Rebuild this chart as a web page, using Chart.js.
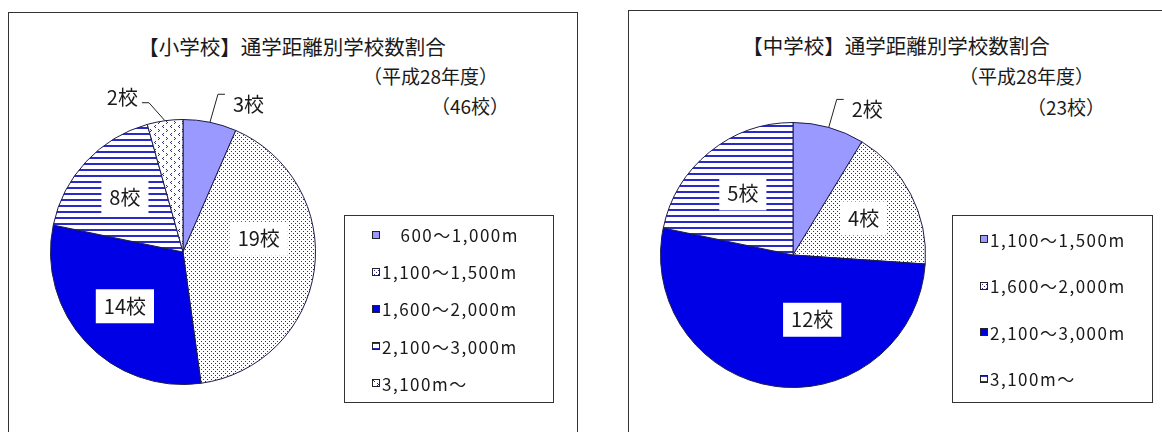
<!DOCTYPE html>
<html lang="ja">
<head>
<meta charset="utf-8">
<script src="https://cdn.jsdelivr.net/npm/chart.js@4.4.1/dist/chart.umd.min.js"></script>
<style>
  body { margin:0; width:1162px; height:432px; overflow:hidden; background:#fff;
         font-family:"Noto Sans CJK JP", sans-serif; color:#1a1a1a; position:relative; }
  .frame { position:absolute; border:1px solid #333; }
  .txt { position:absolute; white-space:pre; line-height:1; }
  .title { font-size:20.5px; transform:translate(-50%, -50%); }
  .sub { font-size:19px; transform:translate(-100%, -50%); }
  .legend { position:absolute; border:1px solid #333; box-sizing:border-box; padding-left:27px;
            display:flex; flex-direction:column; justify-content:space-around; background:#fff; }
  .legend div { display:flex; align-items:center; height:17px; font-size:17px; letter-spacing:1.5px; white-space:pre; }
  .legend canvas { margin-right:2px; }
  canvas.pie { position:absolute; }
</style>
</head>
<body>
<div class="frame" style="left:8px;top:12px;width:568px;height:440px"></div>
<div class="frame" style="left:628px;top:10px;width:560px;height:440px"></div>

<div class="txt title" id="title1" style="left:292px;top:46px"></div>
<div class="txt sub" id="year1" style="left:498px;top:75px"></div>
<div class="txt sub" id="count1" style="left:509px;top:105px"></div>

<div class="txt title" id="title2" style="left:896px;top:45px"></div>
<div class="txt sub" id="year2" style="left:1094px;top:75px"></div>
<div class="txt sub" id="count2" style="left:1105px;top:106px"></div>

<canvas class="pie" id="pie1" width="566" height="419" style="left:9px;top:13px"></canvas>
<canvas class="pie" id="pie2" width="533" height="421" style="left:629px;top:11px"></canvas>

<div class="legend" id="legend1" style="left:344px;top:215px;width:210px;height:188px"></div>
<div class="legend" id="legend2" style="left:952px;top:215px;width:201px;height:188px"></div>

<script>
// 小学校
const elemTitle = '【小学校】通学距離別学校数割合';
const elemLabels = ['　600～1,000m', '1,100～1,500m', '1,600～2,000m', '2,100～3,000m', '3,100m～'];
const elemSchools = [3, 19, 14, 8, 2];

// 中学校
const juniorTitle = '【中学校】通学距離別学校数割合';
const juniorLabels = ['1,100～1,500m', '1,600～2,000m', '2,100～3,000m', '3,100m～'];
const juniorSchools = [2, 4, 12, 5];

const yearText = '（平成28年度）';

function sum(arr) {
    return arr.reduce((s, v) => s + v, 0);
}

document.getElementById('title1').textContent = elemTitle;
document.getElementById('year1').textContent = yearText;
document.getElementById('count1').textContent = '（' + sum(elemSchools) + '校）';
document.getElementById('title2').textContent = juniorTitle;
document.getElementById('year2').textContent = yearText;
document.getElementById('count2').textContent = '（' + sum(juniorSchools) + '校）';

// fill patterns like the old Excel ones
function makePattern(w, h, draw) {
    const c = document.createElement('canvas');
    c.width = w;
    c.height = h;
    const g = c.getContext('2d');
    g.fillStyle = '#fff';
    g.fillRect(0, 0, w, h);
    draw(g);
    return g.createPattern(c, 'repeat');
}

const purple = '#9999ff';
const blue = '#0000e6';
const dots = makePattern(4, 4, g => {
    g.fillStyle = '#2c2c80';
    g.fillRect(0, 0, 1, 1);
    g.fillRect(2, 2, 1, 1);
});
const stripes = makePattern(6, 6, g => {
    g.fillStyle = '#2a2ac8';
    g.fillRect(0, 0, 6, 2);
});
const chevrons = makePattern(8, 8, g => {
    g.fillStyle = '#30307a';
    g.fillRect(2, 0, 1, 1);
    g.fillRect(1, 1, 1, 1);
    g.fillRect(2, 2, 1, 1);
    g.fillRect(5, 4, 1, 1);
    g.fillRect(6, 5, 1, 1);
    g.fillRect(5, 6, 1, 1);
});

const elemFills = [purple, dots, blue, stripes, chevrons];
const juniorFills = [purple, dots, blue, stripes];

// labels "N校": inside with white box, small slices outside with a leader line
const sliceLabels = {
    id: 'sliceLabels',
    afterDatasetsDraw(chart, args, opts) {
        const ctx = chart.ctx;
        const values = chart.data.datasets[0].data;
        const total = sum(values);
        const nudge = opts.nudge || {};
        ctx.save();
        ctx.font = '20px "Noto Sans CJK JP"';
        ctx.textBaseline = 'middle';
        chart.getDatasetMeta(0).data.forEach((arc, i) => {
            const p = arc.getProps(['x', 'y', 'startAngle', 'endAngle', 'outerRadius']);
            const mid = (p.startAngle + p.endAngle) / 2;
            const cos = Math.cos(mid);
            const sin = Math.sin(mid);
            const text = values[i] + '校';
            const w = ctx.measureText(text).width;
            if (values[i] / total < 0.1) {
                const right = cos >= 0;
                const side = right ? 1 : -1;
                const ex = p.x + p.outerRadius * cos;
                const ey = p.y + p.outerRadius * sin;
                const kx = ex + (right ? 8 : -16);
                const ky = ey - (right ? 28 : 18);
                const hx = kx + side * 7;
                ctx.strokeStyle = '#222';
                ctx.lineWidth = 1;
                ctx.beginPath();
                ctx.moveTo(ex, ey);
                ctx.lineTo(kx, ky);
                ctx.lineTo(hx, ky);
                ctx.stroke();
                ctx.fillStyle = '#1a1a1a';
                ctx.textAlign = right ? 'left' : 'right';
                ctx.fillText(text, hx + side * (right ? 8 : 4), ky + (right ? 10 : -5));
            } else {
                const d = nudge[i] || [0, 0];
                const lx = p.x + 0.6 * p.outerRadius * cos + d[0];
                const ly = p.y + 0.6 * p.outerRadius * sin + d[1];
                ctx.fillStyle = '#fff';
                ctx.fillRect(lx - w / 2 - 8, ly - 17, w + 16, 34);
                ctx.fillStyle = '#1a1a1a';
                ctx.textAlign = 'center';
                ctx.fillText(text, lx, ly);
            }
        });
        ctx.restore();
    }
};

function createPie(id, labels, values, fills, padding, nudge) {
    const ctx = document.getElementById(id).getContext('2d');
    return new Chart(ctx, {
        type: 'pie',
        data: {
            labels: labels,
            datasets: [{
                data: values,
                backgroundColor: fills,
                borderColor: '#1c1c4c',
                borderWidth: 1
            }]
        },
        options: {
            responsive: false,
            animation: false,
            layout: { padding: padding },
            plugins: {
                legend: { display: false },
                tooltip: { enabled: false },
                sliceLabels: { nudge: nudge }
            }
        },
        plugins: [sliceLabels]
    });
}

function buildLegend(id, labels, fills) {
    const box = document.getElementById(id);
    labels.forEach((lab, i) => {
        const row = document.createElement('div');
        const sw = document.createElement('canvas');
        sw.width = 8;
        sw.height = 8;
        const g = sw.getContext('2d');
        g.fillStyle = fills[i];
        g.fillRect(0, 0, 8, 8);
        g.strokeStyle = '#222';
        g.strokeRect(0.5, 0.5, 7, 7);
        const span = document.createElement('span');
        span.textContent = lab;
        row.append(sw, span);
        box.append(row);
    });
}

createPie('pie1', elemLabels, elemSchools, elemFills,
    { left: 41, top: 106, right: 259, bottom: 47 }, { 1: [-3, -24] });
createPie('pie2', juniorLabels, juniorSchools, juniorFills,
    { left: 31, top: 111, right: 236, bottom: 44 }, { 2: [30, -14] });

buildLegend('legend1', elemLabels, elemFills);
buildLegend('legend2', juniorLabels, juniorFills);
</script>
</body>
</html>
